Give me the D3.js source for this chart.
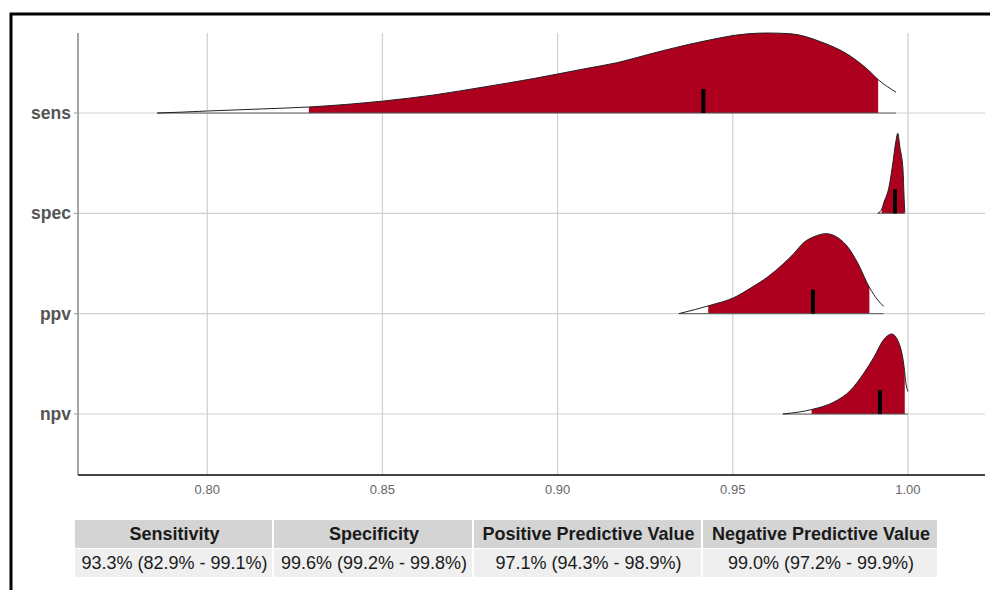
<!DOCTYPE html>
<html>
<head>
<meta charset="utf-8">
<script src="https://cdn.jsdelivr.net/npm/d3@7"></script>
<style>
  body { margin: 0; background: #fff; }
  text { font-family: "Liberation Sans", Arial, sans-serif; }
</style>
</head>
<body>
<div id="chart"></div>
<script>
// Data
var cats = ["sens", "spec", "ppv", "npv"];

// density outlines: values and relative heights (peak = 1)
var sensX = [0.7857, 0.7923, 0.8000, 0.8151, 0.8289, 0.8503, 0.8646, 0.8789, 0.8931, 0.9074, 0.9171, 0.9266, 0.9409, 0.9543, 0.9600, 0.9666, 0.9751, 0.9829, 0.9886, 0.9917, 0.9966];
var sensH = [0, 0.01, 0.025, 0.05, 0.075, 0.15, 0.225, 0.325, 0.43, 0.55, 0.63, 0.74, 0.89, 0.99, 1.0, 0.99, 0.89, 0.73, 0.54, 0.41, 0.26];

var specX = [0.9914, 0.9926, 0.9931, 0.9946, 0.9957, 0.9966, 0.9971, 0.9977, 0.9986, 0.9989, 0.9991];
var specH = [0, 0.06, 0.13, 0.33, 0.63, 0.91, 1.0, 0.83, 0.54, 0.2, 0.01];

var ppvX = [0.9346, 0.9440, 0.9503, 0.9551, 0.9600, 0.9646, 0.9674, 0.9703, 0.9731, 0.9766, 0.9800, 0.9829, 0.9857, 0.9891, 0.9914, 0.9931];
var ppvH = [0, 0.11, 0.2, 0.32, 0.46, 0.63, 0.75, 0.89, 0.96, 1.0, 0.95, 0.83, 0.63, 0.32, 0.17, 0.09];

var npvX = [0.9643, 0.9729, 0.9789, 0.9837, 0.9874, 0.9903, 0.9931, 0.9954, 0.9974, 0.9989, 0.9994, 1.0000];
var npvH = [0, 0.06, 0.15, 0.3, 0.51, 0.71, 0.93, 1.0, 0.89, 0.59, 0.39, 0.28];

var lowerCI = [0.829, 0.9925, 0.943, 0.9725];
var upperCI = [0.9915, 0.9991, 0.989, 0.9991];
var medians = [0.9416, 0.9963, 0.9729, 0.9920];

var xTicks = [0.80, 0.85, 0.90, 0.95, 1.00];

var tableHeaders = ["Sensitivity", "Specificity", "Positive Predictive Value", "Negative Predictive Value"];
var tableValues = ["93.3% (82.9% - 99.1%)", "99.6% (99.2% - 99.8%)", "97.1% (94.3% - 98.9%)", "99.0% (97.2% - 99.9%)"];

// Layout
var svgWidth = 990;
var svgHeight = 590;
var plot = { left: 78, right: 985, top: 33, bottom: 475 };
var redFill = "#ad001f";

var svg = d3.select("#chart")
  .append("svg")
  .attr("width", svgWidth)
  .attr("height", svgHeight);

svg.append("rect")
  .attr("width", svgWidth)
  .attr("height", svgHeight)
  .attr("fill", "#fff");

// outer frame
svg.append("rect")
  .attr("x", 11)
  .attr("y", 14)
  .attr("width", 1200)
  .attr("height", 800)
  .attr("fill", "none")
  .attr("stroke", "#000")
  .attr("stroke-width", 3);

var x = d3.scaleLinear()
  .domain([0.7631, 1.022])
  .range([plot.left, plot.right]);

var y = d3.scalePoint()
  .domain(cats)
  .range([113, 414]);

var h = d3.scaleLinear()
  .domain([0, 1])
  .range([0, 80]);

// gridlines
svg.append("g").selectAll("line")
  .data(xTicks)
  .enter().append("line")
  .attr("x1", d => x(d)).attr("x2", d => x(d))
  .attr("y1", plot.top).attr("y2", plot.bottom)
  .attr("stroke", "#cfcfcf")
  .attr("stroke-width", 1.2);

svg.append("g").selectAll("line")
  .data(cats)
  .enter().append("line")
  .attr("x1", plot.left).attr("x2", plot.right)
  .attr("y1", d => y(d)).attr("y2", d => y(d))
  .attr("stroke", "#cfcfcf")
  .attr("stroke-width", 1.2);

// densities
var series = [
  { xs: sensX, hs: sensH },
  { xs: specX, hs: specH },
  { xs: ppvX, hs: ppvH },
  { xs: npvX, hs: npvH }
];

var defs = svg.append("defs");

cats.forEach(function (cat, i) {
  var pts = series[i].xs.map(function (v, j) { return { v: v, d: series[i].hs[j] }; });
  var base = y(cat);

  var area = d3.area()
    .x(d => x(d.v))
    .y0(base)
    .y1(d => base - h(d.d))
    .curve(d3.curveMonotoneX);

  var topLine = d3.line()
    .x(d => x(d.v))
    .y(d => base - h(d.d))
    .curve(d3.curveMonotoneX);

  defs.append("clipPath")
    .attr("id", "ci" + i)
    .append("rect")
    .attr("x", x(lowerCI[i]))
    .attr("y", base - 100)
    .attr("width", x(upperCI[i]) - x(lowerCI[i]))
    .attr("height", 100);

  var g = svg.append("g");

  g.append("path")
    .datum(pts)
    .attr("d", area)
    .attr("fill", "#fff");

  g.append("path")
    .datum(pts)
    .attr("d", area)
    .attr("fill", redFill)
    .attr("clip-path", "url(#ci" + i + ")");

  g.append("line")
    .attr("x1", x(pts[0].v)).attr("x2", x(pts[pts.length - 1].v))
    .attr("y1", base).attr("y2", base)
    .attr("stroke", "#555")
    .attr("stroke-width", 1);

  g.append("path")
    .datum(pts)
    .attr("d", topLine)
    .attr("fill", "none")
    .attr("stroke", "#222")
    .attr("stroke-width", 1);

  g.append("line")
    .attr("x1", x(medians[i])).attr("x2", x(medians[i]))
    .attr("y1", base).attr("y2", base - 24)
    .attr("stroke", "#000")
    .attr("stroke-width", 4);
});

// axes
svg.append("line")
  .attr("x1", plot.left).attr("x2", plot.left)
  .attr("y1", plot.top).attr("y2", plot.bottom)
  .attr("stroke", "#888")
  .attr("stroke-width", 1.5);

svg.append("line")
  .attr("x1", plot.left).attr("x2", plot.right)
  .attr("y1", plot.bottom).attr("y2", plot.bottom)
  .attr("stroke", "#444")
  .attr("stroke-width", 2);

svg.append("g").selectAll("line")
  .data(cats)
  .enter().append("line")
  .attr("x1", plot.left - 4).attr("x2", plot.left)
  .attr("y1", d => y(d)).attr("y2", d => y(d))
  .attr("stroke", "#999")
  .attr("stroke-width", 1);

svg.append("g").selectAll("text")
  .data(cats)
  .enter().append("text")
  .attr("x", plot.left - 7)
  .attr("y", d => y(d) + 6)
  .attr("text-anchor", "end")
  .attr("font-size", "17.5px")
  .attr("font-weight", "bold")
  .attr("fill", "#555")
  .text(d => d);

svg.append("g").selectAll("text")
  .data(xTicks)
  .enter().append("text")
  .attr("x", d => x(d))
  .attr("y", plot.bottom + 19)
  .attr("text-anchor", "middle")
  .attr("font-size", "13px")
  .attr("fill", "#666")
  .text(d => d.toFixed(2));

// summary table
var colWidths = [199, 200, 229, 236];
var colLeft = [75];
colWidths.forEach(function (w, i) { colLeft.push(colLeft[i] + w); });
var headTop = 520, rowH = 28;

var table = svg.append("g");

tableHeaders.forEach(function (t, i) {
  table.append("rect")
    .attr("x", colLeft[i]).attr("y", headTop)
    .attr("width", colWidths[i] - 2).attr("height", rowH)
    .attr("fill", "#d4d4d4");
  table.append("rect")
    .attr("x", colLeft[i]).attr("y", headTop + rowH + 1)
    .attr("width", colWidths[i] - 2).attr("height", rowH)
    .attr("fill", "#efefef");
  table.append("text")
    .attr("x", colLeft[i] + colWidths[i] / 2)
    .attr("y", headTop + 20)
    .attr("text-anchor", "middle")
    .attr("font-size", "18px")
    .attr("font-weight", "bold")
    .attr("fill", "#1a1a1a")
    .text(t);
  table.append("text")
    .attr("x", colLeft[i] + colWidths[i] / 2)
    .attr("y", headTop + rowH + 21)
    .attr("text-anchor", "middle")
    .attr("font-size", "18px")
    .attr("fill", "#1a1a1a")
    .text(tableValues[i]);
});
</script>
</body>
</html>
